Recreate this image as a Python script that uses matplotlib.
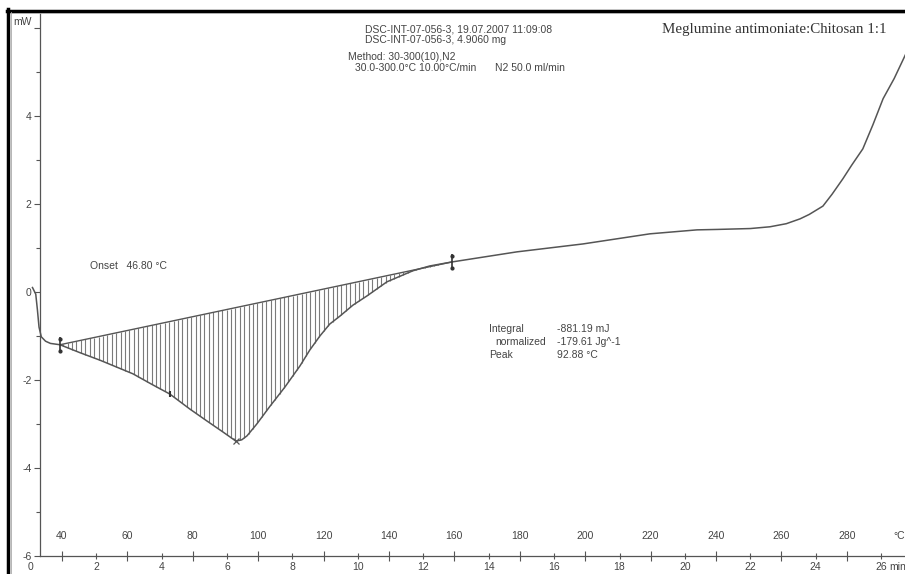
import numpy as np
import matplotlib
matplotlib.use('Agg')
import matplotlib.pyplot as plt
from matplotlib.lines import Line2D

# DSC curve (time in min, heat flow in mW)
time_min = [0.05, 0.15, 0.20, 0.25, 0.32, 0.45, 0.60, 0.89, 1.50, 2.11, 3.12,
            3.70, 4.25, 4.86, 5.38, 5.87, 6.10, 6.27, 6.45, 6.61, 6.91, 7.31,
            7.77, 8.23, 8.53, 8.84, 9.14, 9.45, 9.85, 10.28, 10.89, 11.68,
            12.20, 12.87, 14.86, 16.88, 18.93, 20.37, 21.00, 22.00, 22.60,
            23.10, 23.52, 23.80, 24.22, 24.50, 24.83, 25.10, 25.44, 25.75,
            26.06, 26.40, 26.75]
heat_mw = [0.10, -0.05, -0.40, -0.80, -1.02, -1.12, -1.17, -1.20, -1.38, -1.55,
           -1.86, -2.10, -2.32, -2.66, -2.93, -3.18, -3.30, -3.39, -3.36, -3.27,
           -3.00, -2.60, -2.16, -1.68, -1.32, -1.00, -0.73, -0.55, -0.30, -0.09,
           0.23, 0.48, 0.59, 0.68, 0.91, 1.09, 1.32, 1.41, 1.42, 1.44, 1.48,
           1.55, 1.66, 1.76, 1.95, 2.22, 2.57, 2.88, 3.25, 3.80, 4.39, 4.85,
           5.40]

# integration limits and peak
onset_t, onset_mw = 0.89, -1.20
end_t, end_mw = 12.87, 0.68
peak_t, peak_mw = 6.27, -3.39
mark_t, mark_mw = 4.25, -2.32

# temperature program: 30.5 C at t=0, 10 K/min
T0 = 30.5
RATE = 10.0
temp_ticks = [40, 60, 80, 100, 120, 140, 160, 180, 200, 220, 240, 260, 280]
time_ticks = [0, 2, 4, 6, 8, 10, 12, 14, 16, 18, 20, 22, 24, 26]
mw_ticks = [-6, -4, -2, 0, 2, 4, 6]
mw_minor = [-5, -3, -1, 1, 3, 5]

W, H = 905, 574
def fx(px):
    return px / W
def fy(py):
    return 1 - py / H

line_c = '#555555'
text_c = '#444444'
sans = ['Liberation Sans', 'DejaVu Sans']
serif = ['Liberation Serif', 'DejaVu Serif']
fs = 7.5

fig = plt.figure(figsize=(9.05, 5.74), dpi=100)
ax = fig.add_axes([fx(40), fy(556), 1 - fx(40), fy(12) - fy(556)])

for s in ['top', 'right']:
    ax.spines[s].set_visible(False)
for s in ['left', 'bottom']:
    ax.spines[s].set_color(line_c)
    ax.spines[s].set_linewidth(0.9)

# hatch of the integrated peak area
base_t = [onset_t, end_t]
base_mw = [onset_mw, end_mw]
hx = np.arange(onset_t + 0.1, end_t - 0.05, 0.135)
hy_base = np.interp(hx, base_t, base_mw)
hy_curve = np.interp(hx, time_min, heat_mw)
ax.vlines(hx, hy_curve, hy_base, color='#7a7a7a', lw=0.8)
ax.plot(base_t, base_mw, color=line_c, lw=1.0)

ax.plot(time_min, heat_mw, color=line_c, lw=1.1, clip_on=False)

# markers
for tt, mm in [(onset_t, onset_mw), (end_t, end_mw)]:
    ax.plot([tt], [mm], marker='|', ms=11, mew=1.2, color='#333333')
    ax.plot([tt, tt], [mm + 0.14, mm - 0.14], ls='none', marker='o', ms=2, color='#333333')
ax.plot([peak_t], [peak_mw], marker='x', ms=5, mew=0.9, color=line_c)
ax.plot([mark_t], [mark_mw], marker='|', ms=4, mew=1.5, color='#333333')

# axes ticks
ax.set_yticks(mw_ticks)
ax.set_yticklabels([str(v) if v != 6 else '' for v in mw_ticks])
ax.set_yticks(mw_minor, minor=True)
ax.tick_params(axis='y', which='major', direction='out', length=4.5, width=0.8,
               color=line_c, labelcolor=text_c, labelsize=fs, pad=1.5)
ax.tick_params(axis='y', which='minor', direction='out', length=3, width=0.8, color=line_c)
ax.set_xticks(time_ticks)
ax.tick_params(axis='x', direction='inout', length=5, width=0.8, color=line_c,
               labelcolor=text_c, labelsize=fs, pad=2)
for lab in ax.get_xticklabels() + ax.get_yticklabels():
    lab.set_family(sans)
ax.set_xlim(0.28, 26.73)
ax.set_ylim(-6.0, 6.36)

# time 0 lies just left of the mW axis
ax.annotate('0', xy=(time_ticks[0], 0), xycoords=('data', 'axes fraction'),
            xytext=(0, -4.6), textcoords='offset points', ha='center', va='top',
            fontsize=fs, color=text_c, family=sans, annotation_clip=False)

sec = ax.secondary_xaxis(0.0, functions=(lambda t: T0 + RATE * t,
                                         lambda T: (T - T0) / RATE))
sec.set_alignment('top')
sec.spines['top'].set_visible(False)
sec.set_xticks(temp_ticks)
sec.tick_params(axis='x', direction='inout', length=7, width=0.8, color=line_c,
                labelcolor=text_c, labelsize=fs, pad=7)
for lab in sec.get_xticklabels():
    lab.set_family(sans)

fig.text(fx(893), fy(536), '°C', fontsize=fs, color=text_c, family=sans, va='center')
fig.text(fx(889), fy(567), 'min', fontsize=fs, color=text_c, family=sans, va='center')
fig.text(fx(13), fy(22), 'mW', fontsize=fs, color=text_c, family=sans, va='center')

# header
fig.text(fx(365), fy(29), 'DSC-INT-07-056-3, 19.07.2007 11:09:08', fontsize=fs,
         color=text_c, family=sans, va='center')
fig.text(fx(365), fy(40), 'DSC-INT-07-056-3, 4.9060 mg', fontsize=fs,
         color=text_c, family=sans, va='center')
fig.text(fx(348), fy(57), 'Method: 30-300(10),N2', fontsize=fs,
         color=text_c, family=sans, va='center')
fig.text(fx(355), fy(68), '30.0-300.0°C 10.00°C/min', fontsize=fs,
         color=text_c, family=sans, va='center')
fig.text(fx(495), fy(68), 'N2 50.0 ml/min', fontsize=fs,
         color=text_c, family=sans, va='center')
fig.text(fx(662), fy(29), 'Meglumine antimoniate:Chitosan 1:1', fontsize=10.8,
         color='#333333', family=serif, va='center')

# evaluation results
fig.text(fx(90), fy(266), 'Onset   46.80 °C', fontsize=fs, color=text_c,
         family=sans, va='center')
fig.text(fx(489), fy(329), 'Integral', fontsize=fs, color=text_c, family=sans, va='center')
fig.text(fx(557), fy(329), '-881.19 mJ', fontsize=fs, color=text_c, family=sans, va='center')
fig.text(fx(495), fy(342), 'normalized', fontsize=fs, color=text_c, family=sans, va='center')
fig.text(fx(557), fy(342), '-179.61 Jg^-1', fontsize=fs, color=text_c, family=sans, va='center')
fig.text(fx(489), fy(355), 'Peak', fontsize=fs, color=text_c, family=sans, va='center')
fig.text(fx(557), fy(355), '92.88 °C', fontsize=fs, color=text_c, family=sans, va='center')

# frame
fig.add_artist(Line2D([fx(7.5), fx(7.5)], [0, fy(9)], color='black', lw=2.5))
fig.add_artist(Line2D([fx(6.5), 1], [fy(10.5), fy(10.5)], color='black', lw=2.5))
fig.add_artist(Line2D([fx(10.5), fx(10.5)], [0, fy(12)], color='#aaaaaa', lw=0.6))
fig.add_artist(Line2D([fx(10.5), 1], [fy(12.5), fy(12.5)], color='#aaaaaa', lw=0.6))

fig.savefig('out.png', dpi=100)
